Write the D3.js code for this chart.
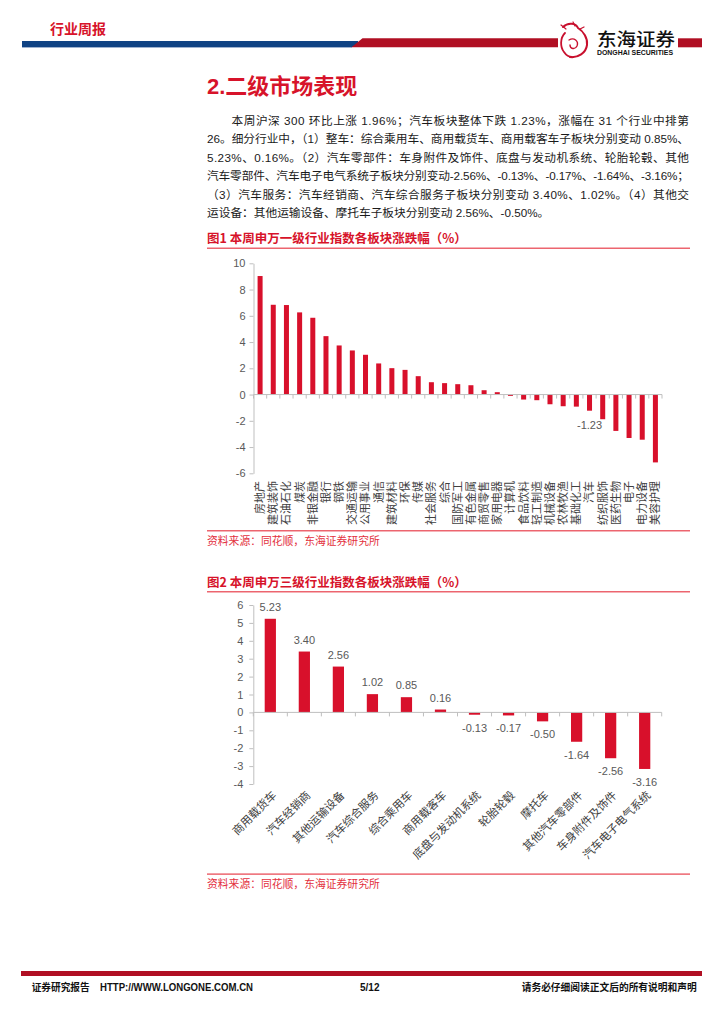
<!DOCTYPE html>
<html><head><meta charset="utf-8">
<script src="https://cdn.jsdelivr.net/npm/d3@7"></script>
<style>
html,body{margin:0;padding:0;background:#fff;}
svg{display:block;font-family:"Liberation Sans","Noto Sans CJK SC",sans-serif;}
</style></head>
<body>
<svg id="page" width="724" height="1024"></svg>
<script>
// ---------- data ----------
const categories1 = ['房地产','建筑装饰','石油石化','煤炭','非银金融','银行','钢铁','交通运输','公用事业','通信','建筑材料','环保','传媒','社会服务','综合','国防军工','有色金属','商贸零售','家用电器','计算机','食品饮料','轻工制造','机械设备','农林牧渔','基础化工','汽车','纺织服饰','医药生物','电子','电力设备','美容护理'];
const values1 = [9.03,6.84,6.82,6.26,5.85,4.45,3.74,3.36,3.03,2.37,2.01,1.88,1.40,0.94,0.87,0.79,0.71,0.33,0.18,-0.10,-0.38,-0.43,-0.74,-0.89,-0.92,-1.23,-1.88,-2.77,-3.31,-3.44,-5.17];
const ticks1 = [-6,-4,-2,0,2,4,6,8,10];
const labeled1 = ['汽车'];

const categories2 = ['商用载货车','汽车经销商','其他运输设备','汽车综合服务','综合乘用车','商用载客车','底盘与发动机系统','轮胎轮毂','摩托车','其他汽车零部件','车身附件及饰件','汽车电子电气系统'];
const values2 = [5.23,3.40,2.56,1.02,0.85,0.16,-0.13,-0.17,-0.50,-1.64,-2.56,-3.16];
const ticks2 = [-4,-3,-2,-1,0,1,2,3,4,5,6];

const headerTitle = '行业周报';
const sectionTitle = '2.二级市场表现';
const paragraph = [
  '本周沪深 300 环比上涨 1.96%；汽车板块整体下跌 1.23%，涨幅在 31 个行业中排第',
  '26。细分行业中，（1）整车：综合乘用车、商用载货车、商用载客车子板块分别变动 0.85%、',
  '5.23%、0.16%。（2）汽车零部件：车身附件及饰件、底盘与发动机系统、轮胎轮毂、其他',
  '汽车零部件、汽车电子电气系统子板块分别变动-2.56%、-0.13%、-0.17%、-1.64%、-3.16%；',
  '（3）汽车服务：汽车经销商、汽车综合服务子板块分别变动 3.40%、1.02%。（4）其他交',
  '运设备：其他运输设备、摩托车子板块分别变动 2.56%、-0.50%。'
];
const chart1Title = '图1  本周申万一级行业指数各板块涨跌幅（%）';
const chart2Title = '图2  本周申万三级行业指数各板块涨跌幅（%）';
const sourceText = '资料来源：同花顺，东海证券研究所';

// ---------- styles ----------
const RED = '#d7132a';
const BAR = '#d8102b';
const AXIS = '#bfbfbf';
const TICKTXT = '#595959';
const fmt2 = d => d.toFixed(2);
const fmtInt = d => String(d);

const svg = d3.select('#page');

// ---------- header ----------
svg.append('text').attr('x',50).attr('y',34).attr('fill',RED).attr('font-size',14).attr('font-weight','bold')
  .attr('font-family','"Noto Sans CJK SC"').text(headerTitle);
svg.append('rect').attr('x',22).attr('y',41).attr('width',336).attr('height',6).attr('fill','#0f4384');
svg.append('rect').attr('x',22).attr('y',47).attr('width',330).attr('height',1).attr('fill','#9fb3d0');
svg.append('path').attr('d','M351.5,47.3 L362.5,38.3 L558,38.3 L558,47.3 Z').attr('fill','#b00f23');
svg.append('rect').attr('x',678).attr('y',38.3).attr('width',24).attr('height',9).attr('fill','#b00f23');
// logo emblem (dragon swirl)
const lg = svg.append('g').attr('fill','none').attr('stroke','#c8102e').attr('stroke-linecap','round');
lg.append('path').attr('d','M563,27 C568,22 576,23 578,28 C583,31 588,38 587,45 C586,53 578,58 570,57').attr('stroke-width',2);
lg.append('path').attr('d','M565,33 C560,38 560,47 564,52 C566,55 569,57 572,57').attr('stroke-width',1.8);
lg.append('path').attr('d','M569,40 C574,37 579,41 577,46 C575,50 570,49 570,45').attr('stroke-width',1.4);
lg.append('path').attr('d','M561,25 L566,29 M573,22 L575,26 M580,29 L584,27').attr('stroke-width',1.2);
svg.append('text').attr('x',597).attr('y',46).attr('font-size',18).attr('font-family','"Noto Sans CJK SC"')
  .attr('font-weight',500).attr('fill','#111').attr('textLength',78).attr('lengthAdjust','spacingAndGlyphs').text('东海证券');
svg.append('text').attr('x',597).attr('y',55).attr('font-size',6.5).attr('font-weight','bold').attr('fill','#111')
  .attr('textLength',76).attr('lengthAdjust','spacingAndGlyphs').text('DONGHAI SECURITIES');

// ---------- section heading & paragraph ----------
svg.append('text').attr('x',207).attr('y',94).attr('fill',RED).attr('font-size',22).attr('font-weight','bold').text(sectionTitle);
const pStarts = [231.5,207,207,207,207,207];
const pBase = [125,143.4,161.8,180.2,198.6,217];
paragraph.forEach((line,i)=>{
  const t = svg.append('text').attr('x',pStarts[i]).attr('y',pBase[i]).attr('font-size',11.7).attr('fill','#1a1a1a').text(line);
  if(i < paragraph.length-1) t.attr('textLength',689-pStarts[i]).attr('lengthAdjust','spacing');
});

function titleBlock(y, title){
  svg.append('text').attr('x',207).attr('y',y+4.5).attr('fill',RED).attr('font-size',12.5).attr('font-weight','bold')
    .attr('font-family','"Noto Sans CJK SC"').text(title);
}
function sourceBlock(lineY, title){
  svg.append('rect').attr('x',207).attr('y',lineY-0.5).attr('width',483).attr('height',1.2).attr('fill','#e8404c');
  svg.append('text').attr('x',207).attr('y',lineY+14).attr('fill','#e3303d').attr('font-size',10.8)
    .attr('font-family','"Noto Sans CJK SC"').text(title);
}

// ---------- chart 1 ----------
titleBlock(238, chart1Title);
svg.append('rect').attr('x',207).attr('y',247.6).attr('width',483).attr('height',1.2).attr('fill','#e8404c');
{
  const x = d3.scaleBand().domain(categories1).range([253.5,662]).paddingInner(0.62).paddingOuter(0.31);
  const y = d3.scaleLinear().domain([-6,10]).range([473.3,263.3]);
  const g = svg.append('g');
  const ya = d3.axisLeft(y).tickValues(ticks1).tickSize(4).tickSizeOuter(0).tickFormat(fmtInt);
  const yg = g.append('g').attr('transform','translate(253.5,0)').call(ya);
  yg.select('.domain').attr('stroke',AXIS);
  yg.selectAll('.tick line').attr('stroke',AXIS);
  yg.selectAll('.tick text').attr('fill',TICKTXT).attr('font-size',11).attr('x',-8).attr('font-family','"Liberation Sans"');
  g.selectAll('rect.b').data(values1).enter().append('rect')
    .attr('x',(d,i)=>x(categories1[i])).attr('width',x.bandwidth())
    .attr('y',d=>y(Math.max(0,d))).attr('height',d=>Math.abs(y(d)-y(0))).attr('fill',BAR);
  const step = x.step(), x0 = x.range()[0];
  g.append('line').attr('x1',x.range()[0]).attr('x2',x.range()[1]).attr('y1',y(0)).attr('y2',y(0)).attr('stroke',AXIS);
  d3.range(categories1.length+1).forEach(i=>{
    g.append('line').attr('x1',x0+i*step).attr('x2',x0+i*step).attr('y1',y(0)).attr('y2',y(0)+4).attr('stroke',AXIS);
  });
  categories1.forEach((c,i)=>{
    if(labeled1.includes(c)){
      g.append('text').attr('x',x(c)+x.bandwidth()/2).attr('y',y(values1[i])+18).attr('text-anchor','middle')
        .attr('fill',TICKTXT).attr('font-size',11).text(fmt2(values1[i]));
    }
  });
  categories1.forEach(c=>{
    g.append('text').attr('transform',`translate(${x(c)+x.bandwidth()/2},481) rotate(-90)`)
      .attr('text-anchor','end').attr('dy','0.36em').attr('fill','#404040').attr('font-size',11)
      .attr('font-family','"Noto Sans CJK SC"').text(c);
  });
}
sourceBlock(530.7, sourceText);

// ---------- chart 2 ----------
titleBlock(582.7, chart2Title);
svg.append('rect').attr('x',207).attr('y',591.2).attr('width',483).attr('height',1.2).attr('fill','#e8404c');
{
  const x = d3.scaleBand().domain(categories2).range([253.3,661.7]).paddingInner(0.67).paddingOuter(0.335);
  const y = d3.scaleLinear().domain([-4,6]).range([784,605]);
  const g = svg.append('g');
  const ya = d3.axisLeft(y).tickValues(ticks2).tickSize(4).tickSizeOuter(0).tickFormat(fmtInt);
  const yg = g.append('g').attr('transform','translate(253.3,0)').call(ya);
  yg.select('.domain').attr('stroke',AXIS);
  yg.selectAll('.tick line').attr('stroke',AXIS);
  yg.selectAll('.tick text').attr('fill',TICKTXT).attr('font-size',11).attr('x',-10).attr('font-family','"Liberation Sans"');
  g.selectAll('rect.b').data(values2).enter().append('rect')
    .attr('x',(d,i)=>x(categories2[i])).attr('width',x.bandwidth())
    .attr('y',d=>y(Math.max(0,d))).attr('height',d=>Math.abs(y(d)-y(0))).attr('fill',BAR);
  const step = x.step(), x0 = x.range()[0];
  g.append('line').attr('x1',x.range()[0]).attr('x2',x.range()[1]).attr('y1',y(0)).attr('y2',y(0)).attr('stroke',AXIS);
  d3.range(categories2.length+1).forEach(i=>{
    g.append('line').attr('x1',x0+i*step).attr('x2',x0+i*step).attr('y1',y(0)).attr('y2',y(0)+4).attr('stroke',AXIS);
  });
  values2.forEach((v,i)=>{
    const cx = x(categories2[i])+x.bandwidth()/2;
    g.append('text').attr('x',cx).attr('text-anchor','middle')
      .attr('y', v>=0 ? y(v)-8 : y(v)+17)
      .attr('fill',TICKTXT).attr('font-size',11).text(fmt2(v));
  });
  categories2.forEach(c=>{
    const cx = x(c)+x.bandwidth()/2;
    g.append('text').attr('transform',`translate(${cx+4},793) rotate(-45)`)
      .attr('text-anchor','end').attr('dy','0.36em').attr('fill','#404040').attr('font-size',11.3)
      .attr('font-family','"Noto Sans CJK SC"').text(c);
  });
}
sourceBlock(874, sourceText);

// ---------- footer ----------
svg.append('rect').attr('x',21).attr('y',971).attr('width',681).attr('height',5).attr('fill','#b00f23');
svg.append('text').attr('x',31.7).attr('y',990.5).attr('font-size',10).attr('font-weight','bold').attr('fill','#111')
  .attr('font-family','"Noto Sans CJK SC"').attr('textLength',58).attr('lengthAdjust','spacingAndGlyphs').text('证券研究报告');
svg.append('text').attr('x',100).attr('y',990.5).attr('font-size',10).attr('font-weight','bold').attr('fill','#111')
  .attr('textLength',153).attr('lengthAdjust','spacingAndGlyphs').text('HTTP://WWW.LONGONE.COM.CN');
svg.append('text').attr('x',360).attr('y',990.5).attr('font-size',10).attr('font-weight','bold').attr('fill','#111').text('5/12');
svg.append('text').attr('x',696.7).attr('y',990.5).attr('text-anchor','end').attr('font-size',10).attr('font-weight','bold').attr('fill','#111')
  .attr('font-family','"Noto Sans CJK SC"').attr('textLength',175).attr('lengthAdjust','spacingAndGlyphs').text('请务必仔细阅读正文后的所有说明和声明');
</script>
</body></html>
